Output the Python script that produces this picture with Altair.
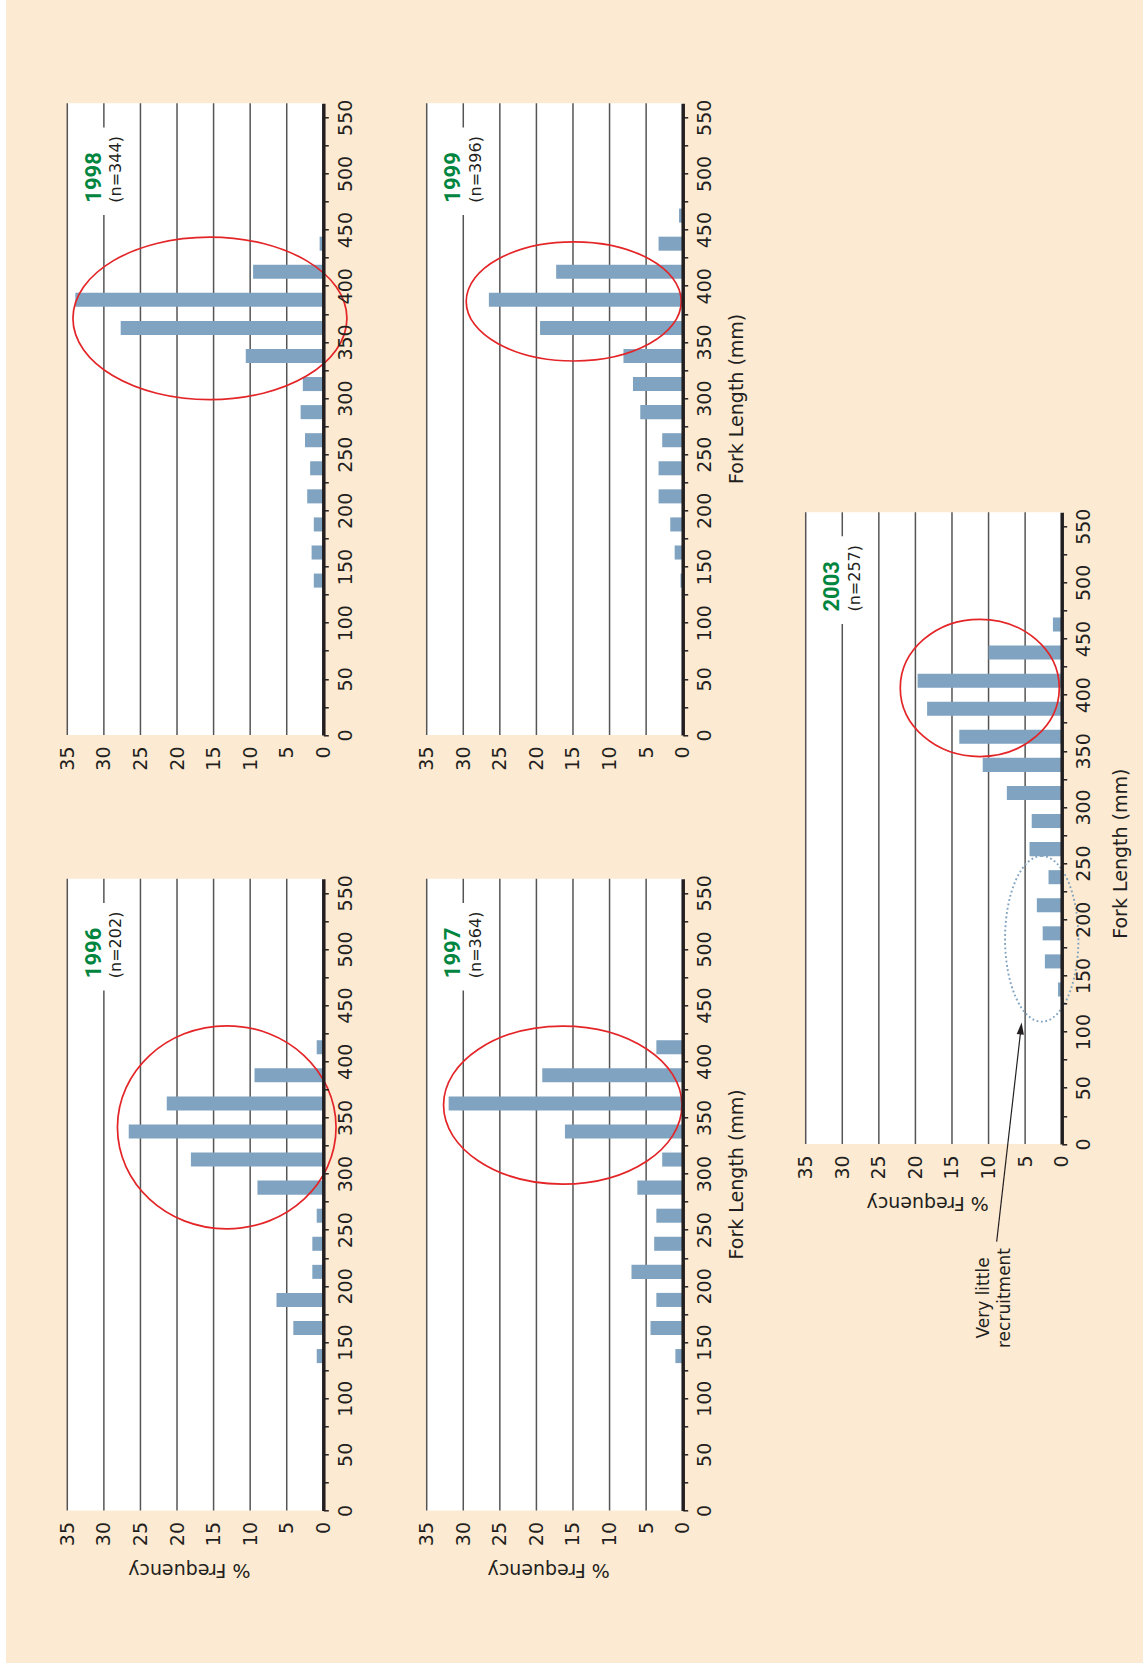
import altair as alt
import pandas as pd

# ---------------------------------------------------------------------------
# Length-frequency data (% of fish in each 25 mm fork-length class)
# ---------------------------------------------------------------------------
BIN_START = [125, 150, 175, 200, 225, 250, 275, 300, 325, 350, 375, 400, 425, 450]

YEARS = [1996, 1997, 1998, 1999, 2003]
SAMPLE_N = [202, 364, 344, 396, 257]

FREQ_1996 = [0.9, 4.1, 6.4, 1.5, 1.5, 0.9, 9.0, 18.1, 26.6, 21.4, 9.4, 0.9, 0.0, 0.0]
FREQ_1997 = [1.0, 4.4, 3.6, 7.0, 3.9, 3.6, 6.2, 2.8, 16.1, 32.0, 19.2, 3.6, 0.0, 0.0]
FREQ_1998 = [1.3, 1.6, 1.3, 2.2, 1.8, 2.5, 3.1, 2.8, 10.6, 27.7, 33.9, 9.6, 0.5, 0.0]
FREQ_1999 = [0.3, 1.1, 1.7, 3.3, 3.3, 2.8, 5.8, 6.8, 8.1, 19.5, 26.5, 17.3, 3.3, 0.5]
FREQ_2003 = [0.5, 2.3, 2.6, 3.4, 1.8, 4.4, 4.1, 7.5, 10.8, 14.0, 18.4, 19.7, 10.0, 1.2]

FREQ_BY_YEAR = {1996: FREQ_1996, 1997: FREQ_1997, 1998: FREQ_1998,
                1999: FREQ_1999, 2003: FREQ_2003}

FREQ_TICKS = [0, 5, 10, 15, 20, 25, 30, 35]
GRID_LINES = [5, 10, 15, 20, 25, 30, 35]
LENGTH_TICKS = list(range(0, 575, 25))
FREQ_MAX = 35
LENGTH_MAX = 562.5

# Annotation rings around the dominant mode: (centre %, centre mm, half-width px, half-height px)
MODE_RINGS = {
    1996: (13.2, 341.2, 109.3, 101.5),
    1997: (16.4, 361.0, 119.2, 79.0),
    1998: (15.5, 371.0, 137.0, 81.3),
    1999: (14.9, 386.1, 107.5, 59.6),
    2003: (11.2, 406.0, 79.5, 68.6),
}
RECRUIT_RING = (2.73, 182.6, 36.7, 82.8)

# ---------------------------------------------------------------------------
# Page layout: every panel is drawn turned (length axis vertical)
# ---------------------------------------------------------------------------
PLOT_W, PLOT_H = 256, 631.7
PANEL_LEFT = {1998: 0, 1996: 0, 1999: 359.4, 1997: 359.4, 2003: 738.4}
PANEL_TOP = {1998: 0, 1999: 0, 1996: 775.5, 1997: 775.5, 2003: 408.9}
WIDTH = 738.4 + PLOT_W
HEIGHT = 775.5 + PLOT_H
PAD = {"left": 67.3, "top": 103.3, "right": 1143 - 67.3 - WIDTH, "bottom": 1663 - 103.3 - HEIGHT}

# axis-title placement per panel
FREQ_TITLE_PANELS = {1996, 1997, 2003}
LENGTH_TITLE_POS = {1999: (54, 295), 1997: (54, 775.5 + 295), 2003: (59, 408.9 + 341)}

BG = "#FDEAD2"
BAR = "#7FA3C0"
RED = "#E42528"
GREEN = "#00853F"
INK = "#231F20"
GRID = "#555555"
FONT = "DejaVu Sans"


def ellipse_shape(rx, ry):
    """Unit-box SVG path for an ellipse plus the symbol size giving rx/ry pixel radii."""
    if rx >= ry:
        r = ry / rx
        path = f"M -1 0 A 1 {r:.4f} 0 0 1 1 0 A 1 {r:.4f} 0 0 1 -1 0 Z"
        return path, (2 * rx) ** 2
    r = rx / ry
    path = f"M 0 -1 A {r:.4f} 1 0 0 1 0 1 A {r:.4f} 1 0 0 1 0 -1 Z"
    return path, (2 * ry) ** 2


def panel(year, n):
    left, top = PANEL_LEFT[year], PANEL_TOP[year]
    xs = alt.Scale(domain=[0, FREQ_MAX], range=[left + PLOT_W, left], nice=False, zero=False)
    ys = alt.Scale(domain=[0, LENGTH_MAX], range=[top + PLOT_H, top], nice=False, zero=False)

    # frequency axis (drawn along the bottom of the panel)
    x_axis = dict(values=FREQ_TICKS, orient="bottom", offset=top + PLOT_H - HEIGHT, grid=False,
                  domain=False, ticks=False, labelAngle=270, labelAlign="right",
                  labelBaseline="middle", labelPadding=11, labelFlush=False, labelOverlap=False,
                  labelFont=FONT, labelFontSize=19, labelColor=INK, zindex=1)
    if year in FREQ_TITLE_PANELS:
        x_axis.update(titleAngle=180, titleX=left + PLOT_W / 2 - 6.5, titleY=59,
                      titleAlign="center", titleBaseline="middle", titleFont=FONT,
                      titleFontSize=19, titleFontWeight="normal", titleColor=INK)
        x_title = "% Frequency"
    else:
        x_title = None

    # fork-length axis (drawn along the right side of the panel)
    y_axis = dict(values=LENGTH_TICKS, orient="right", offset=left + PLOT_W - WIDTH, grid=False,
                  domain=True, domainColor=INK, domainWidth=3.5, ticks=True, tickColor=INK,
                  tickWidth=1.5, tickSize=5, labelAngle=270, labelAlign="center",
                  labelBaseline="top", labelPadding=8, labelFlush=False, labelOverlap=False,
                  labelExpr="datum.value % 50 === 0 ? datum.label : ''",
                  labelFont=FONT, labelFontSize=19, labelColor=INK, zindex=1)
    if year in LENGTH_TITLE_POS:
        tx, ty = LENGTH_TITLE_POS[year]
        y_axis.update(titleAngle=270, titleX=tx, titleY=ty, titleAlign="center",
                      titleBaseline="middle", titleFont=FONT, titleFontSize=19,
                      titleFontWeight="normal", titleColor=INK)
        y_title = "Fork Length (mm)"
    else:
        y_title = None

    # every layer carries the same axis definition so the shared axes merge cleanly
    def X(field):
        return alt.X(field, type="quantitative", scale=xs, axis=alt.Axis(**x_axis), title=x_title)

    def Y(field):
        return alt.Y(field, type="quantitative", scale=ys, axis=alt.Axis(**y_axis), title=y_title)

    # white plot area
    area = alt.Chart(alt.Data(values=[{"x0": 0, "x1": FREQ_MAX, "y0": 0, "y1": LENGTH_MAX}])).mark_rect(
        fill="white").encode(x=X("x0"), x2=alt.X2("x1"), y=Y("y0"), y2=alt.Y2("y1"))

    grid = alt.Chart(pd.DataFrame({"g": GRID_LINES, "y0": 0, "y1": LENGTH_MAX})).mark_rule(
        color=GRID, strokeWidth=1.5).encode(x=X("g"), y=Y("y0"), y2=alt.Y2("y1"))

    # label box that interrupts the gridlines behind the year caption
    label_box = alt.Chart(alt.Data(values=[{"x0": 26.3, "x1": 33.7, "y0": 463, "y1": 541}])).mark_rect(
        fill="white").encode(x=X("x0"), x2=alt.X2("x1"), y=Y("y0"), y2=alt.Y2("y1"))

    year_text = alt.Chart(alt.Data(values=[{"tx": 31.4, "ty": 474, "label": str(year)}])).mark_text(
        angle=270, align="left", baseline="middle", font="Roboto", fontWeight="bold",
        fontSize=22, color=GREEN).encode(x=X("tx"), y=Y("ty"), text=alt.Text("label", type="nominal"))

    n_text = alt.Chart(alt.Data(values=[{"tx": 28.3, "ty": 474, "label": f"(n={n})"}])).mark_text(
        angle=270, align="left", baseline="middle", font=FONT, fontSize=16, color=INK).encode(
        x=X("tx"), y=Y("ty"), text=alt.Text("label", type="nominal"))

    bars = alt.Chart(pd.DataFrame({"bin": BIN_START, "freq": FREQ_BY_YEAR[year]})).transform_filter(
        "datum.freq > 0").transform_calculate(
        lo="datum.bin + 6.25", hi="datum.bin + 18.75", zero="0").mark_rect(color=BAR).encode(
        x=X("freq"), x2=alt.X2("zero"), y=Y("lo"), y2=alt.Y2("hi"))

    cx, cy, rx, ry = MODE_RINGS[year]
    path, size = ellipse_shape(rx, ry)
    ring = alt.Chart(alt.Data(values=[{"cx": cx, "cy": cy}])).mark_point(
        shape=path, size=size, filled=False, stroke=RED, strokeWidth=1.7, opacity=1).encode(
        x=X("cx"), y=Y("cy"))

    layers = [area, grid, label_box, year_text, n_text, bars, ring]

    if year == 2003:
        bx, by, brx, bry = RECRUIT_RING
        bpath, bsize = ellipse_shape(brx, bry)
        recruit_ring = alt.Chart(alt.Data(values=[{"cx": bx, "cy": by}])).mark_point(
            shape=bpath, size=bsize, filled=False, stroke=BAR, strokeWidth=1.9,
            strokeDash=[1.8, 2.6], opacity=1).encode(x=X("cx"), y=Y("cy"))

        leader = alt.Chart(alt.Data(values=[{"x": 8.89, "y": -87, "x2": 5.57, "y2": 102.8}])).mark_rule(
            color=INK, strokeWidth=1.2).encode(x=X("x"), y=Y("y"), x2=alt.X2("x2"), y2=alt.Y2("y2"))

        head = alt.Chart(alt.Data(values=[{"x": 5.57, "y": 102.8}])).mark_point(
            shape="M 0 -1 L 0.6 1 L -0.6 1 Z", size=144, filled=True, color=INK,
            angle=6.5, opacity=1).encode(x=X("x"), y=Y("y"))

        note = alt.Chart(alt.Data(values=[{"tx": 10.56, "ty": -137.2,
                                           "t": ["Very little", "recruitment"]}])).mark_text(
            angle=270, align="center", baseline="middle", font=FONT, fontSize=17,
            lineHeight=21, color=INK).encode(x=X("tx"), y=Y("ty"), text=alt.Text("t", type="nominal"))

        layers += [recruit_ring, leader, head, note]

    return alt.layer(*layers)


panels = [panel(y, n) for y, n in zip(YEARS, SAMPLE_N)]

# thin white strip along the left edge of the page
edge = alt.Chart(alt.Data(values=[{"k": 0}])).mark_rect(color="white").encode(
    x=alt.value(-PAD["left"]), x2=alt.value(-PAD["left"] + 6),
    y=alt.value(-PAD["top"]), y2=alt.value(1663 - PAD["top"]))

chart = alt.layer(edge, *panels).resolve_scale(
    x="independent", y="independent").resolve_axis(
    x="independent", y="independent").properties(
    width=WIDTH, height=HEIGHT, padding=PAD,
    autosize=alt.AutoSizeParams(type="none"), background=BG,
).configure_view(strokeWidth=0)

chart.save("out.html", embed_options={"renderer": "svg", "actions": False})
